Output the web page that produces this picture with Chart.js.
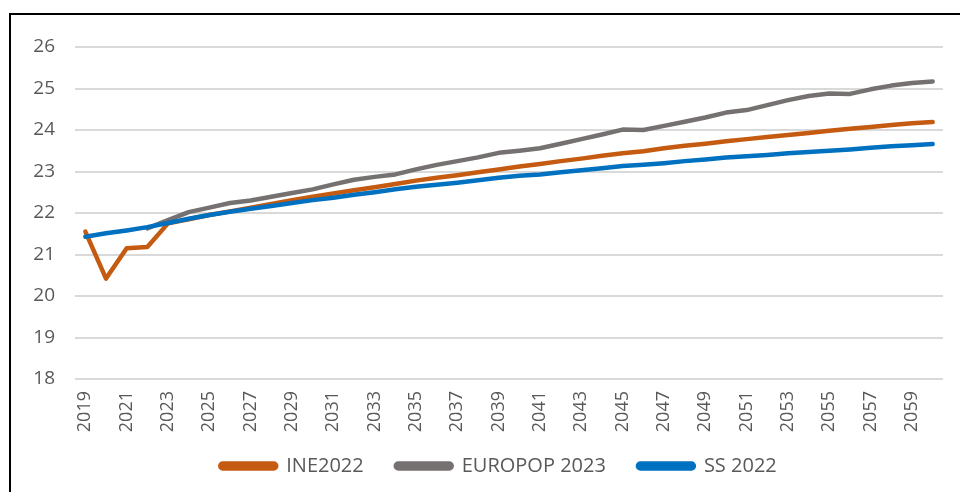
<!DOCTYPE html>
<html>
<head>
<meta charset="utf-8">
<script src="https://cdn.jsdelivr.net/npm/chart.js@4"></script>
<style>
  html, body { margin: 0; padding: 0; background: #fff; overflow: hidden; }
  body { width: 960px; height: 492px; position: relative; }
  #frame { position: absolute; left: 9px; top: 13px; width: 1000px; height: 600px; border: 2px solid #000; }
  #wrap { position: absolute; left: 0; top: 0; width: 960px; height: 500px; }
</style>
</head>
<body>
<div id="frame"></div>
<div id="wrap"><canvas id="chart"></canvas></div>
<script>
const years = [
  '2019', '2020', '2021', '2022', '2023', '2024', '2025', '2026', '2027', '2028',
  '2029', '2030', '2031', '2032', '2033', '2034', '2035', '2036', '2037', '2038',
  '2039', '2040', '2041', '2042', '2043', '2044', '2045', '2046', '2047', '2048',
  '2049', '2050', '2051', '2052', '2053', '2054', '2055', '2056', '2057', '2058',
  '2059', '2060',
];

const ine2022 = [
  21.55, 20.42, 21.15, 21.18, 21.75, 21.85, 21.95, 22.04, 22.13, 22.22,
  22.31, 22.39, 22.47, 22.55, 22.62, 22.70, 22.78, 22.85, 22.91, 22.98,
  23.05, 23.12, 23.18, 23.25, 23.31, 23.38, 23.44, 23.49, 23.56, 23.62,
  23.67, 23.73, 23.78, 23.83, 23.88, 23.93, 23.98, 24.03, 24.07, 24.12,
  24.16, 24.19,
];

const europop2023 = [
  null, null, null, 21.63, 21.83, 22.02, 22.13, 22.24, 22.30, 22.39,
  22.48, 22.57, 22.69, 22.80, 22.87, 22.93, 23.05, 23.16, 23.25, 23.34,
  23.45, 23.50, 23.56, 23.67, 23.78, 23.89, 24.01, 24.00, 24.10, 24.20,
  24.30, 24.42, 24.48, 24.60, 24.72, 24.82, 24.88, 24.87, 24.98, 25.07,
  25.13, 25.17,
];

const ss2022 = [
  21.43, 21.51, 21.58, 21.66, 21.76, 21.86, 21.95, 22.03, 22.10, 22.17,
  22.24, 22.31, 22.37, 22.44, 22.50, 22.57, 22.63, 22.68, 22.73, 22.79,
  22.85, 22.90, 22.93, 22.98, 23.03, 23.08, 23.13, 23.16, 23.20, 23.25,
  23.29, 23.34, 23.37, 23.40, 23.44, 23.47, 23.50, 23.53, 23.57, 23.61,
  23.63, 23.66,
];

const seriesNames = ['INE2022', 'EUROPOP 2023', 'SS 2022'];
const seriesColors = ['#c55a11', '#767171', '#0070c0'];
const yTicks = { min: 18, max: 26, step: 1 };

Chart.defaults.font.family = "'Open Sans', sans-serif";
Chart.defaults.color = '#595959';

function line(label, data, color, order) {
  return {
    label,
    data,
    order,
    borderColor: color,
    backgroundColor: color,
    borderWidth: 4.5,
    borderCapStyle: 'round',
    borderJoinStyle: 'round',
    pointRadius: 0,
    tension: 0,
    fill: false,
  };
}

// the legend sits under the plot area, not under the whole canvas
const nudgeLegend = {
  id: 'nudgeLegend',
  afterLayout(chart) {
    const legend = chart.legend;
    legend.left += 27;
    legend.right += 27;
    legend.top -= 8;
    legend.bottom -= 8;
  },
};

new Chart(document.getElementById('chart'), {
  type: 'line',
  data: {
    labels: years,
    datasets: [
      line(seriesNames[0], ine2022, seriesColors[0], 3),
      line(seriesNames[1], europop2023, seriesColors[1], 2),
      line(seriesNames[2], ss2022, seriesColors[2], 1),
    ],
  },
  plugins: [nudgeLegend],
  options: {
    responsive: true,
    maintainAspectRatio: false,
    animation: false,
    layout: { padding: { top: 47, right: 17, bottom: 6, left: 0 } },
    plugins: {
      tooltip: { enabled: false },
      legend: {
        position: 'bottom',
        labels: {
          boxWidth: 56,
          boxHeight: 5,
          useBorderRadius: true,
          borderRadius: 2.5,
          padding: 32,
          color: '#595959',
          font: { size: 20 },
          sort: (a, b) => a.datasetIndex - b.datasetIndex,
        },
      },
    },
    scales: {
      x: {
        offset: true,
        grid: { display: false, drawTicks: false },
        border: { display: false },
        ticks: {
          autoSkip: false,
          minRotation: 90,
          maxRotation: 90,
          padding: 12,
          font: { size: 18 },
          color: '#595959',
          callback: (value, index) => (index % 2 === 0 ? years[index] : ''),
        },
        afterFit: (scale) => {
          scale.height = 53;
          scale.paddingLeft = 0;
          scale.paddingRight = 0;
        },
      },
      y: {
        min: yTicks.min,
        max: yTicks.max,
        grid: { color: '#d9d9d9', lineWidth: 2, drawTicks: false },
        border: { display: false },
        ticks: {
          stepSize: yTicks.step,
          padding: 20,
          font: { size: 19 },
          color: '#595959',
        },
        afterFit: (scale) => { scale.width = 75; },
      },
    },
  },
});
</script>
</body>
</html>
